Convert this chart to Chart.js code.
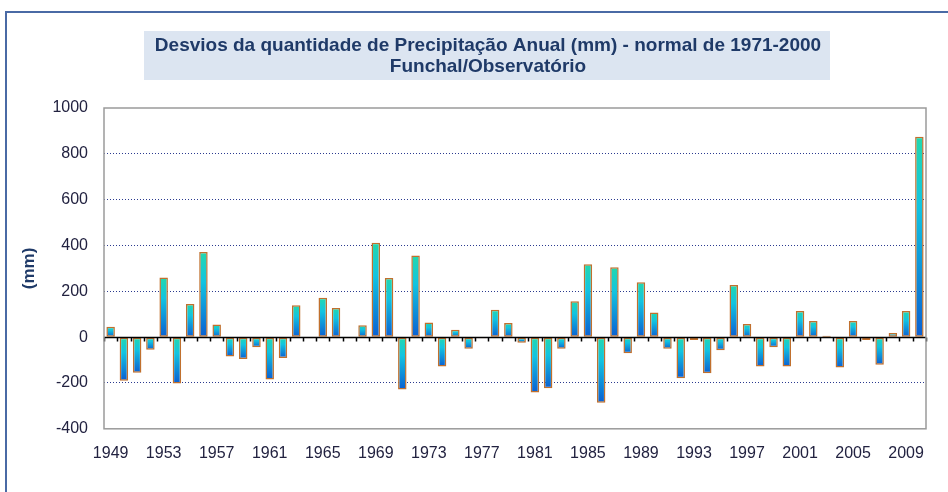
<!DOCTYPE html>
<html>
<head>
<meta charset="utf-8">
<script src="https://cdn.jsdelivr.net/npm/chart.js@4"></script>
<style>
  html, body { margin: 0; padding: 0; background: #fff; }
  #wrap { width: 948px; height: 492px; position: relative; }
</style>
</head>
<body>
<div id="wrap"><canvas id="chart" width="948" height="492"></canvas></div>
<script>
// annual precipitation deviations (mm), Funchal/Observatório, normal 1971-2000
const years = [];
for (let y = 1949; y <= 2010; y++) years.push(String(y));

const deviations = [
    45, -190, -155, -55, 260, -202, 145, 372, 55, -84,
    -95, -44, -185, -91, 139, -5, 172, 127, -5, 52,
    412, 258, -229, 356, 64, -128, 32, -51, -5, 120,
    62, -24, -242, -223, -51, 157, 318, -286, 305, -70,
    240, 108, -51, -179, -12, -158, -57, 228, 57, -128,
    -44, -128, 114, 70, 6, -133, 70, -12, -120, 18,
    114, 874
];

const shownYears = ['1949','1953','1957','1961','1965','1969','1973','1977','1981','1985','1989','1993','1997','2001','2005','2009'];
const yTicks = [-400, -200, 0, 200, 400, 600, 800, 1000];

const titleLines = ['Desvios da quantidade de Precipitação Anual (mm) - normal de 1971-2000', 'Funchal/Observatório'];

const navy = '#1F3A68';
const tickText = '#222240';
const font = 'Liberation Sans, Arial, sans-serif';

function barGradient(ctx) {
    const chart = ctx.chart;
    const area = chart.chartArea;
    if (!area) return '#14b8d8';
    const ys = chart.scales.y;
    const p0 = ys.getPixelForValue(0);
    const p1 = ys.getPixelForValue(ctx.raw);
    const top = Math.min(p0, p1), bottom = Math.max(p0, p1) + 0.01;
    const g = chart.ctx.createLinearGradient(0, top, 0, bottom);
    g.addColorStop(0, '#22d8ae');
    g.addColorStop(0.35, '#12c4e0');
    g.addColorStop(1, '#0a5fd2');
    return g;
}

// frame, title box + title, plot border, zero line and its ticks
const decor = {
    id: 'decor',
    beforeDraw(chart) {
        const c = chart.ctx;
        c.save();
        c.strokeStyle = '#4a6aa5';
        c.lineWidth = 2;
        c.beginPath();
        c.moveTo(6, 492);
        c.lineTo(6, 12);
        c.lineTo(948, 12);
        c.stroke();
        c.fillStyle = '#dce5f1';
        c.fillRect(144, 31, 686, 49);
        c.fillStyle = navy;
        c.font = 'bold 19px ' + font;
        c.textAlign = 'center';
        c.textBaseline = 'middle';
        c.fillText(titleLines[0], 488, 46);
        c.fillText(titleLines[1], 488, 67);
        c.restore();
    },
    afterDatasetsDraw(chart) {
        const c = chart.ctx;
        const a = chart.chartArea;
        const xs = chart.scales.x;
        const ys = chart.scales.y;
        const z = Math.round(ys.getPixelForValue(0)) + 0.5;
        const step = xs.getPixelForValue(1) - xs.getPixelForValue(0);
        c.save();
        c.strokeStyle = '#000';
        c.lineWidth = 1.5;
        c.beginPath();
        c.moveTo(a.left, z);
        c.lineTo(a.right, z);
        for (let i = 0; i <= years.length; i++) {
            const x = Math.round(xs.getPixelForValue(0) - step / 2 + i * step) + 0.5;
            c.moveTo(x, z);
            c.lineTo(x, z + 4);
        }
        c.stroke();
        c.strokeStyle = '#9a9a9a';
        c.lineWidth = 1.5;
        c.strokeRect(a.left, a.top, a.right - a.left, a.bottom - a.top);
        c.restore();
    }
};

new Chart(document.getElementById('chart'), {
    type: 'bar',
    data: {
        labels: years,
        datasets: [{
            data: deviations,
            backgroundColor: barGradient,
            borderColor: '#c0702e',
            borderWidth: 1.5,
            borderSkipped: false,
            barPercentage: 0.64,
            categoryPercentage: 1
        }]
    },
    options: {
        responsive: false,
        animation: false,
        layout: { padding: { left: 19, right: 22, top: 108, bottom: 14 } },
        plugins: {
            legend: { display: false },
            tooltip: { enabled: false },
            title: { display: false }
        },
        scales: {
            x: {
                grid: { display: false, drawTicks: false },
                border: { display: false },
                ticks: {
                    autoSkip: false,
                    maxRotation: 0,
                    padding: 15,
                    color: tickText,
                    font: { family: font, size: 16 },
                    callback: function (v) {
                        const lab = this.getLabelForValue(v);
                        return shownYears.includes(lab) ? lab : '';
                    }
                }
            },
            y: {
                min: -400,
                max: 1000,
                afterFit(scale) { scale.width = 85; },
                afterBuildTicks(scale) { scale.ticks = yTicks.map(v => ({ value: v })); },
                grid: {
                    drawTicks: false,
                    color: ctx => (ctx.tick && [0, 1000, -400].includes(ctx.tick.value)) ? 'rgba(0,0,0,0)' : '#2b3a8f',
                    lineWidth: 1
                },
                border: { display: false, dash: [1, 2] },
                ticks: {
                    padding: 16,
                    color: tickText,
                    font: { family: font, size: 16 },
                    callback: v => String(v)
                },
                title: {
                    display: true,
                    text: '(mm)',
                    color: navy,
                    font: { family: font, size: 17, weight: 'bold' },
                    padding: 0
                }
            }
        }
    },
    plugins: [decor]
});
</script>
</body>
</html>
